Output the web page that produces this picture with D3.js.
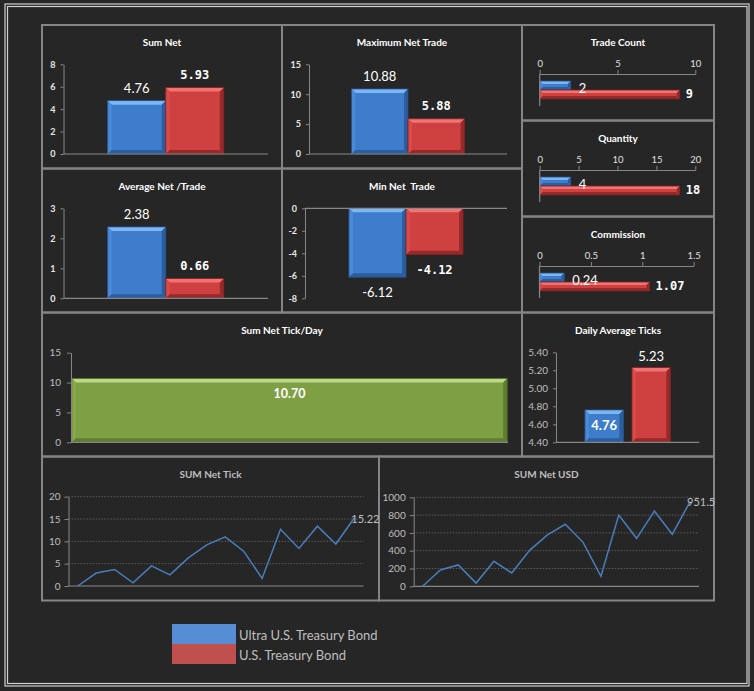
<!DOCTYPE html>
<html>
<head>
<meta charset="utf-8">
<script src="https://cdn.jsdelivr.net/npm/d3@7"></script>
<style>
  body { margin: 0; background: #262626; }
  svg { display: block; }
</style>
</head>
<body>
<div id="dash"></div>
<script>
// ---- data ----
const series = ["Ultra U.S. Treasury Bond", "U.S. Treasury Bond"];
const sumNet = [4.76, 5.93];
const maxNetTrade = [10.88, 5.88];
const avgNetTrade = [2.38, 0.66];
const minNetTrade = [-6.12, -4.12];
const tradeCount = [2, 9];
const quantity = [4, 18];
const commission = [0.24, 1.07];
const dailyAvgTicks = [4.76, 5.23];
const sumNetTickDay = [10.70];
const days = [1, 2, 3, 4, 5, 6, 7, 8, 9, 10, 11, 12, 13, 14, 15, 16];
const sumNetTick = [0, 2.9, 3.7, 0.7, 4.5, 2.5, 6.3, 9.2, 11.0, 7.8, 1.7, 12.7, 8.4, 13.4, 9.4, 15.22];
const sumNetUsd = [0, 183, 240, 37, 281, 150, 404, 577, 697, 494, 112, 801, 539, 846, 584, 951.5];

const sumNetTicks = [0, 2, 4, 6, 8];
const maxNetTicks = [0, 5, 10, 15];
const avgNetTicks = [0, 1, 2, 3];
const minNetTicks = [0, -2, -4, -6, -8];
const tradeCountTicks = [0, 5, 10];
const quantityTicks = [0, 5, 10, 15, 20];
const commissionTicks = [0, 0.5, 1, 1.5];
const dailyAvgTickVals = [4.40, 4.60, 4.80, 5.00, 5.20, 5.40];
const tickDayTicks = [0, 5, 10, 15];
const netTickTicks = [0, 5, 10, 15, 20];
const netUsdTicks = [0, 200, 400, 600, 800, 1000];

// ---- setup ----
const width = 754;
const height = 691;
const FONT = "Lato, 'Open Sans', sans-serif";
const MONO = "'DejaVu Sans Mono', monospace";
const plain = d => String(d);

const pal = [
  { base: "#3d7dcc", light: "#7db6f4", side: "#4a8ad8", dark: "#2c5e9e", edge: "#234f88" },
  { base: "#cf4141", light: "#f27373", side: "#d94b4b", dark: "#962a2a", edge: "#7a2020" }
];
const green = { base: "#7f9f45", light: "#bcd985", side: "#88a84c", dark: "#5f7c30", edge: "#4c6624" };

const svg = d3.select("#dash")
  .append("svg")
  .attr("width", width)
  .attr("height", height);

svg.append("rect").attr("width", width).attr("height", height).attr("fill", "#262626");

// double outer frame
svg.append("rect").attr("x", 5).attr("y", 4).attr("width", 744).attr("height", 682)
  .attr("fill", "none").attr("stroke", "#cfcfcf").attr("stroke-width", 1.2);
svg.append("rect").attr("x", 7.5).attr("y", 6.5).attr("width", 739.5).attr("height", 677)
  .attr("fill", "none").attr("stroke", "#cfcfcf").attr("stroke-width", 1.2);

// panels
function panel(x0, y0, x1, y1, title, color) {
  svg.append("rect")
    .attr("x", x0).attr("y", y0)
    .attr("width", x1 - x0).attr("height", y1 - y0)
    .attr("fill", "none")
    .attr("stroke", "#858585")
    .attr("stroke-width", 2);
  svg.append("text")
    .attr("x", (x0 + x1) / 2)
    .attr("y", y0 + 17)
    .attr("text-anchor", "middle")
    .attr("dominant-baseline", "central")
    .style("font-family", FONT)
    .style("font-size", "10px")
    .style("font-weight", "bold")
    .style("white-space", "pre")
    .style("fill", color || "#ffffff")
    .text(title);
}

function styleAxis(g, color, size, bold) {
  g.attr("font-family", null).attr("font-size", null);
  g.select(".domain").attr("stroke", "#878787");
  g.selectAll(".tick line").attr("stroke", "#878787");
  g.selectAll(".tick text")
    .style("font-family", FONT)
    .style("font-size", size + "px")
    .style("font-weight", bold ? "bold" : "normal")
    .attr("fill", color);
}

function bevelBar(g, x, y, w, h, p) {
  const b = Math.max(1.5, Math.min(4, w / 4, h / 3));
  g.append("rect").attr("x", x).attr("y", y).attr("width", w).attr("height", h).attr("fill", p.base);
  g.append("path").attr("d", `M${x},${y}H${x + w}L${x + w - b},${y + b}H${x + b}Z`).attr("fill", p.light);
  g.append("path").attr("d", `M${x},${y}L${x + b},${y + b}V${y + h - b}L${x},${y + h}Z`).attr("fill", p.side);
  g.append("path").attr("d", `M${x + w},${y}V${y + h}L${x + w - b},${y + h - b}V${y + b}Z`).attr("fill", p.dark);
  g.append("path").attr("d", `M${x},${y + h}L${x + b},${y + h - b}H${x + w - b}L${x + w},${y + h}Z`).attr("fill", p.dark);
  g.append("rect").attr("x", x).attr("y", y).attr("width", w).attr("height", h)
    .attr("fill", "none").attr("stroke", p.edge).attr("stroke-width", 0.8);
}

function label(x, y, txt, i, anchor, bold) {
  svg.append("text")
    .attr("x", x).attr("y", y)
    .attr("text-anchor", anchor || "middle")
    .attr("dominant-baseline", "central")
    .style("font-family", i === 1 ? MONO : FONT)
    .style("font-size", i === 1 ? "12px" : "13px")
    .style("font-weight", i === 1 || bold ? "bold" : "normal")
    .style("fill", "#ffffff")
    .text(txt);
}

// vertical clustered bars
function vbar(o) {
  const x = d3.scaleBand().domain(series).range([o.x0, o.x1])
    .paddingInner(o.pi || 0).paddingOuter(o.po || 0.76);
  const y = d3.scaleLinear().domain(o.domain).range([o.yBot, o.yTop]);
  const g = svg.append("g");
  const base = o.base !== undefined ? o.base : 0;
  o.values.forEach((v, i) => {
    const y0 = y(Math.max(v, base)), y1 = y(Math.min(v, base));
    bevelBar(g, x(series[i]), y0, x.bandwidth(), y1 - y0, pal[i]);
  });
  const ax = svg.append("g")
    .attr("transform", `translate(${o.x0},0)`)
    .call(d3.axisLeft(y).tickValues(o.ticks).tickSize(3).tickSizeOuter(0).tickPadding(5).tickFormat(o.fmt || plain));
  styleAxis(ax, o.tickColor || "#e8e8e8", o.tickSize || 9, o.tickBold !== false);
  const at = o.axisAt !== undefined ? o.axisAt : 0;
  svg.append("line")
    .attr("x1", o.x0).attr("x2", o.x1)
    .attr("y1", y(at)).attr("y2", y(at))
    .attr("stroke", "#878787").attr("stroke-width", 1.2);
  return { x, y };
}

// horizontal clustered bars
function hbar(o) {
  const x = d3.scaleLinear().domain([o.ticks[0], o.ticks[o.ticks.length - 1]]).range([o.x0, o.x1]);
  const y = d3.scaleBand().domain(series).range([o.yTop, o.yBot]).paddingInner(0).paddingOuter(0.78);
  const g = svg.append("g");
  o.values.forEach((v, i) => bevelBar(g, x(0), y(series[i]), x(v) - x(0), y.bandwidth(), pal[i]));
  const ax = svg.append("g")
    .attr("transform", `translate(0,${o.yTop})`)
    .call(d3.axisTop(x).tickValues(o.ticks).tickSize(4).tickSizeOuter(0).tickPadding(3).tickFormat(plain));
  styleAxis(ax, "#e0e0e0", 9.5, false);
  svg.append("line")
    .attr("x1", x(0)).attr("x2", x(0))
    .attr("y1", o.yTop).attr("y2", o.yBot)
    .attr("stroke", "#878787").attr("stroke-width", 1.2);
  o.values.forEach((v, i) => {
    const cy = y(series[i]) + y.bandwidth() / 2 + (i === 0 ? 2 : 0);
    label(x(v) + (i === 0 ? 8 : 6), cy, o.fmt ? o.fmt(v) : v, i, "start");
  });
}

// line charts
function lineChart(o) {
  const x = d3.scalePoint().domain(days).range([o.x0, o.x1]).padding(0.5);
  const y = d3.scaleLinear().domain([o.ticks[0], o.ticks[o.ticks.length - 1]]).range([o.yBot, o.yTop]);
  svg.append("g").selectAll("line")
    .data(o.ticks.slice(1))
    .enter()
    .append("line")
    .attr("x1", o.x0).attr("x2", o.x1)
    .attr("y1", d => y(d)).attr("y2", d => y(d))
    .attr("stroke", "#5c5c5c")
    .attr("stroke-dasharray", "1.5,1.5");
  const ax = svg.append("g")
    .attr("transform", `translate(${o.x0},0)`)
    .call(d3.axisLeft(y).tickValues(o.ticks).tickSize(4).tickSizeOuter(0).tickPadding(4).tickFormat(plain));
  styleAxis(ax, "#bfbfbf", 10, false);
  svg.append("line")
    .attr("x1", o.x0).attr("x2", o.x1)
    .attr("y1", y(0)).attr("y2", y(0))
    .attr("stroke", "#878787").attr("stroke-width", 1.2);
  const line = d3.line().x((d, i) => x(days[i])).y(d => y(d));
  svg.append("path")
    .datum(o.values)
    .attr("d", line)
    .attr("fill", "none")
    .attr("stroke", "#4a7ebb")
    .attr("stroke-width", 1.5);
  const last = o.values.length - 1;
  svg.append("text")
    .attr("x", x(days[last]) - 3)
    .attr("y", y(o.values[last]))
    .attr("dominant-baseline", "central")
    .style("font-family", FONT)
    .style("font-size", "11px")
    .style("fill", "#bfbfbf")
    .text(o.values[last]);
}

// ---- panels ----
panel(42, 25, 282, 168.5, "Sum Net");
panel(282, 25, 522, 168.5, "Maximum Net Trade");
panel(42, 168.5, 282, 312.5, "Average Net /Trade");
panel(282, 168.5, 522, 312.5, "Min Net  Trade");
panel(522, 25, 714, 120.5, "Trade Count");
panel(522, 120.5, 714, 216.5, "Quantity");
panel(522, 216.5, 714, 312.5, "Commission");
panel(42, 312.5, 522, 456.5, "Sum Net Tick/Day");
panel(522, 312.5, 714, 456.5, "Daily Average Ticks");
panel(42, 456.5, 379, 600.5, "SUM Net Tick", "#bfbfbf");
panel(379, 456.5, 714, 600.5, "SUM Net USD", "#bfbfbf");

// Sum Net
let s = vbar({ x0: 63.5, x1: 268, yTop: 64.3, yBot: 154, domain: [0, 8], ticks: sumNetTicks, values: sumNet });
sumNet.forEach((v, i) => label(s.x(series[i]) + s.x.bandwidth() / 2, s.y(v) - 12.5, v.toFixed(2), i));

// Maximum Net Trade
s = vbar({ x0: 309, x1: 507, yTop: 64.3, yBot: 154, domain: [0, 15], ticks: maxNetTicks, values: maxNetTrade, po: 0.75 });
maxNetTrade.forEach((v, i) => label(s.x(series[i]) + s.x.bandwidth() / 2, s.y(v) - 13, v.toFixed(2), i));

// Average Net / Trade
s = vbar({ x0: 63.5, x1: 268, yTop: 208.3, yBot: 298.3, domain: [0, 3], ticks: avgNetTicks, values: avgNetTrade });
avgNetTrade.forEach((v, i) => label(s.x(series[i]) + s.x.bandwidth() / 2, s.y(v) - 13, v.toFixed(2), i));

// Min Net Trade
s = vbar({ x0: 305, x1: 507, yTop: 208.3, yBot: 298.3, domain: [-8, 0], ticks: minNetTicks, values: minNetTrade, po: 0.77 });
minNetTrade.forEach((v, i) => label(s.x(series[i]) + s.x.bandwidth() / 2, s.y(v) + 15, v.toFixed(2), i));

// Trade Count / Quantity / Commission
hbar({ x0: 539.7, x1: 695.3, yTop: 74, yBot: 106, ticks: tradeCountTicks, values: tradeCount });
hbar({ x0: 539.7, x1: 695.3, yTop: 170, yBot: 202, ticks: quantityTicks, values: quantity });
hbar({ x0: 539.5, x1: 693.7, yTop: 266, yBot: 298, ticks: commissionTicks, values: commission, fmt: d3.format(".2f") });

// Sum Net Tick/Day
const xd = d3.scaleBand().domain(["Sum Net Tick/Day"]).range([71, 508]).padding(0);
const yd = d3.scaleLinear().domain([0, 15]).range([442.3, 352.7]);
bevelBar(svg.append("g"), xd("Sum Net Tick/Day") + 0.8, yd(sumNetTickDay[0]), xd.bandwidth() - 1.6, yd(0) - yd(sumNetTickDay[0]), green);
let ax = svg.append("g").attr("transform", "translate(71,0)")
  .call(d3.axisLeft(yd).tickValues(tickDayTicks).tickSize(4).tickSizeOuter(0).tickPadding(6).tickFormat(plain));
styleAxis(ax, "#bfbfbf", 10, false);
svg.append("line").attr("x1", 71).attr("x2", 508).attr("y1", yd(0)).attr("y2", yd(0))
  .attr("stroke", "#878787").attr("stroke-width", 1.2);
svg.append("text")
  .attr("x", xd("Sum Net Tick/Day") + xd.bandwidth() / 2)
  .attr("y", yd(sumNetTickDay[0]) + 15)
  .attr("text-anchor", "middle")
  .attr("dominant-baseline", "central")
  .style("font-family", FONT).style("font-size", "12.5px").style("font-weight", "bold")
  .style("fill", "#ffffff")
  .text(sumNetTickDay[0].toFixed(2));

// Daily Average Ticks
s = vbar({
  x0: 556, x1: 699.3, yTop: 352.3, yBot: 442.3, domain: [4.4, 5.4], ticks: dailyAvgTickVals,
  values: dailyAvgTicks, base: 4.4, axisAt: 4.4, pi: 0.183, po: 0.616,
  fmt: d3.format(".2f"), tickColor: "#bfbfbf", tickSize: 10, tickBold: false
});
label(s.x(series[0]) + s.x.bandwidth() / 2, s.y(4.4) - 17, dailyAvgTicks[0].toFixed(2), 0, "middle", true);
svg.append("text")
  .attr("x", s.x(series[1]) + s.x.bandwidth() / 2)
  .attr("y", s.y(dailyAvgTicks[1]) - 12)
  .attr("text-anchor", "middle").attr("dominant-baseline", "central")
  .style("font-family", FONT).style("font-size", "13px").style("fill", "#ffffff")
  .text(dailyAvgTicks[1].toFixed(2));

// line charts
lineChart({ x0: 68.5, x1: 363.5, yTop: 496.7, yBot: 586, ticks: netTickTicks, values: sumNetTick });
lineChart({ x0: 413.7, x1: 699, yTop: 497.3, yBot: 586.3, ticks: netUsdTicks, values: sumNetUsd });

// legend
const legend = svg.append("g").attr("transform", "translate(172,624)");
series.forEach((name, i) => {
  legend.append("rect")
    .attr("x", 0).attr("y", i * 20)
    .attr("width", 64).attr("height", 20)
    .attr("fill", i === 0 ? "#558ed5" : "#c0504d");
  legend.append("text")
    .attr("x", 67).attr("y", i * 20 + 11)
    .attr("dominant-baseline", "central")
    .style("font-family", FONT).style("font-size", "13px")
    .style("fill", "#bfbfbf")
    .text(name);
});
</script>
</body>
</html>
